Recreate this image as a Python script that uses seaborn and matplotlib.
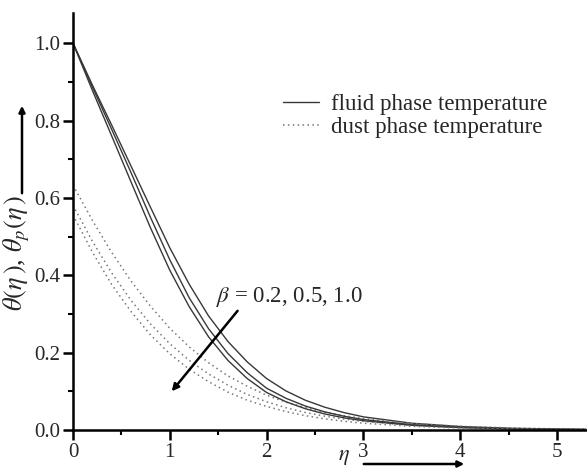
import matplotlib
matplotlib.use("Agg")
import matplotlib.pyplot as plt
from matplotlib.lines import Line2D
from matplotlib.patches import FancyArrowPatch
from matplotlib.ticker import MultipleLocator, FormatStrFormatter
import pandas as pd
import seaborn as sns

# ---------------- data ----------------
eta = [0.0, 0.2, 0.4, 0.6, 0.8, 1.0, 1.2, 1.4, 1.6, 1.8, 2.0,
       2.2, 2.4, 2.6, 2.8, 3.0, 3.5, 4.0, 4.5, 5.0, 5.3]
betas = ["0.2", "0.5", "1.0"]

# fluid phase temperature theta(eta)
theta_b02 = [1.000, 0.892, 0.788, 0.682, 0.576, 0.471, 0.377, 0.295, 0.229, 0.176, 0.133,
             0.101, 0.077, 0.059, 0.045, 0.034, 0.0175, 0.009, 0.0046, 0.0024, 0.0016]
theta_b05 = [1.000, 0.887, 0.777, 0.665, 0.550, 0.440, 0.342, 0.262, 0.198, 0.148, 0.108,
             0.082, 0.062, 0.047, 0.0355, 0.027, 0.0138, 0.007, 0.0036, 0.0018, 0.0012]
theta_b10 = [1.000, 0.878, 0.760, 0.641, 0.523, 0.413, 0.319, 0.241, 0.180, 0.133, 0.097,
             0.073, 0.055, 0.0415, 0.0314, 0.024, 0.0122, 0.0062, 0.0031, 0.0016, 0.0011]

# dust phase temperature theta_p(eta)
thetap_b02 = [0.633, 0.542, 0.459, 0.385, 0.320, 0.263, 0.215, 0.174, 0.140, 0.113, 0.090,
              0.072, 0.058, 0.046, 0.037, 0.0295, 0.0169, 0.0097, 0.0055, 0.0030, 0.0020]
thetap_b05 = [0.581, 0.488, 0.406, 0.335, 0.274, 0.223, 0.180, 0.145, 0.116, 0.092, 0.073,
              0.0575, 0.0453, 0.0357, 0.0282, 0.0222, 0.0122, 0.0067, 0.0037, 0.0020, 0.0015]
thetap_b10 = [0.556, 0.460, 0.376, 0.306, 0.246, 0.197, 0.157, 0.125, 0.098, 0.077, 0.061,
              0.0476, 0.0371, 0.0289, 0.0225, 0.0176, 0.0094, 0.0050, 0.0027, 0.0015, 0.0010]

x_ticks = [0, 1, 2, 3, 4, 5]
y_ticks = [0.0, 0.2, 0.4, 0.6, 0.8, 1.0]
legend_labels = ["fluid phase temperature", "dust phase temperature"]

# ---------------- style ----------------
sns.set_style("ticks")
plt.rcParams["font.family"] = ["Liberation Serif", "DejaVu Serif"]
plt.rcParams["mathtext.fontset"] = "stix"

fluid_color = "#383838"
dust_color = "#787878"
dot_style = (0, (1, 2.2))

rows = []
for b, f, d in zip(betas, [theta_b02, theta_b05, theta_b10],
                   [thetap_b02, thetap_b05, thetap_b10]):
    for e, fv, dv in zip(eta, f, d):
        rows.append(dict(eta=e, value=fv, beta=b, phase="fluid"))
        rows.append(dict(eta=e, value=dv, beta=b, phase="dust"))
df = pd.DataFrame(rows)

fig = plt.figure(figsize=(5.87, 4.69), dpi=100)
ax = fig.add_axes([73 / 587, 39 / 469, (587 - 73) / 587, (430 - 13) / 469])

for b in betas:
    sub = df[(df.beta == b) & (df.phase == "fluid")]
    sns.lineplot(data=sub, x="eta", y="value", ax=ax, color=fluid_color,
                 lw=1.0, legend=False, estimator=None, sort=False)
    sub = df[(df.beta == b) & (df.phase == "dust")]
    sns.lineplot(data=sub, x="eta", y="value", ax=ax, color=dust_color,
                 lw=1.1, linestyle=dot_style, legend=False, estimator=None, sort=False)

ax.set_xlim(0, 5.31)
ax.set_ylim(0, 1.078)
ax.set_xlabel("")
ax.set_ylabel("")

for s in ["top", "right"]:
    ax.spines[s].set_visible(False)
for s in ["left", "bottom"]:
    ax.spines[s].set_linewidth(1.8)
    ax.spines[s].set_color("black")

ax.set_xticks(x_ticks)
ax.set_yticks(y_ticks)
ax.xaxis.set_minor_locator(MultipleLocator(0.5))
ax.yaxis.set_minor_locator(MultipleLocator(0.1))
ax.yaxis.set_major_formatter(FormatStrFormatter("%.1f"))
ax.xaxis.set_major_formatter(FormatStrFormatter("%d"))
ax.tick_params(which="major", direction="out", length=7, width=1.8,
               labelsize=15, pad=2, color="black")
ax.tick_params(which="minor", direction="out", length=3.5, width=1.5, color="black")

# legend
handles = [Line2D([], [], color=fluid_color, lw=1.0),
           Line2D([], [], color=dust_color, lw=1.1, linestyle=dot_style)]
leg = ax.legend(handles, legend_labels, loc="upper left",
                bbox_to_anchor=(283 / 587, (469 - 94) / 469),
                bbox_transform=fig.transFigure, frameon=False, fontsize=16.5,
                handlelength=1.55, handletextpad=0.55, labelspacing=0.1,
                borderpad=0, borderaxespad=0)

# beta annotation with arrow
ax.annotate("", xy=(1.02, 0.10), xytext=(1.70, 0.308),
            arrowprops=dict(arrowstyle="-|>", lw=1.8, color="black",
                            mutation_scale=10, shrinkA=0, shrinkB=0))
ax.text(1.48, 0.344, r"$\beta$ = 0.2, 0.5, 1.0", fontsize=16.5,
        ha="left", va="center")

# y label with arrow
fig.text(17 / 587, (469 - 253) / 469, r"$\theta(\eta\,)$, $\theta_p(\eta\,)$",
         rotation=90, ha="center", va="center", fontsize=19)
fig.add_artist(FancyArrowPatch(
    (22 / 587, (469 - 196) / 469), (22 / 587, (469 - 103) / 469),
    transform=fig.transFigure, arrowstyle="-|>", mutation_scale=9,
    lw=1.8, color="black"))

# x label with arrow
fig.text(344 / 587, (469 - 457) / 469, r"$\eta$", ha="center", va="center",
         fontsize=16)
fig.add_artist(FancyArrowPatch(
    (361 / 587, (469 - 464) / 469), (467 / 587, (469 - 464) / 469),
    transform=fig.transFigure, arrowstyle="-|>", mutation_scale=9,
    lw=1.8, color="black"))

fig.savefig("out.png", dpi=100)
